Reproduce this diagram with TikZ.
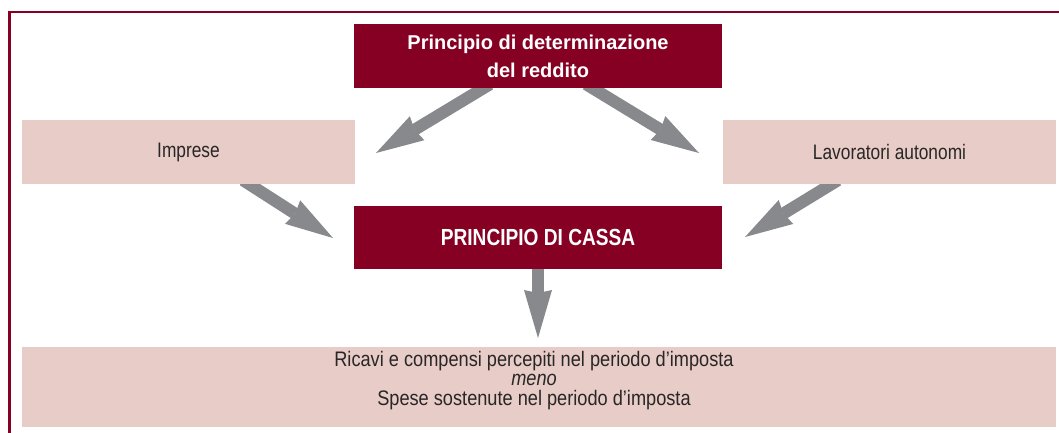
\documentclass[tikz,border=0pt]{standalone}
\usepackage{fontspec}
\setmainfont{Liberation Sans}
\newfontfamily\regfont[FakeStretch=0.825]{Liberation Sans}
\newfontfamily\resfont[FakeStretch=0.866]{Liberation Sans}
\newfontfamily\cassafont[FakeStretch=0.82]{Liberation Sans}
\usetikzlibrary{arrows.meta,backgrounds,calc}
\definecolor{wine}{RGB}{133,0,34}
\definecolor{blush}{RGB}{232,204,199}
\definecolor{arrowgray}{RGB}{136,137,141}
\definecolor{ink}{RGB}{40,38,38}
\begin{document}
\begin{tikzpicture}[x=1pt,y=-1pt,
  darkbox/.style={rectangle, fill=wine, text=white, inner sep=0pt, align=center},
  lightbox/.style={rectangle, fill=blush, text=ink, inner sep=0pt, align=center, font=\regfont\fontsize{21}{19}\selectfont},
  plaintext/.style={inner sep=0pt, text=ink, align=center, font=\resfont\fontsize{21}{19.2}\selectfont},
  bigarrow/.style={draw=arrowgray, line width=12pt, -{Stealth[length=48pt, width=28pt, inset=3pt, line width=0pt]}},
  framerule/.style={draw=wine, line width=2.5pt}]
\useasboundingbox (0,0) rectangle (1059,432);
% frame (cropped at right and bottom)
\coordinate (fbl) at (9.5,433);
\coordinate (ftl) at (9.5,12);
\coordinate (ftr) at (1060,12);
\draw[framerule] (fbl) -- (ftl) -- (ftr);
% boxes
\node[darkbox, minimum width=368pt, minimum height=64pt, font=\bfseries\fontsize{20}{28.3}\selectfont] (title) at (538,56)
  {Principio di determinazione\\del reddito};
\node[lightbox, minimum width=333pt, minimum height=64pt] (imp) at (188.5,152) {Imprese};
\node[lightbox, minimum width=333pt, minimum height=64pt] (lav) at (889.5,152) {Lavoratori autonomi};
\node[darkbox, minimum width=368pt, minimum height=63pt, font=\cassafont\bfseries\fontsize{23.3}{28}\selectfont] (cassa) at (538,237.5) {PRINCIPIO DI CASSA};
\node[rectangle, fill=blush, inner sep=0pt, minimum width=1034pt, minimum height=80pt] (res) at (539,387) {};
\node[plaintext] (restext) at (534,380.5)
  {Ricavi e compensi percepiti nel periodo d’imposta\\\textit{meno}\\Spese sostenute nel periodo d’imposta};
% arrow end points
\coordinate (a1s) at ($(title.south)+(-48,-4)$);
\coordinate (a1t) at (376,153);
\coordinate (a2s) at ($(title.south)+(48,-4)$);
\coordinate (a2t) at (699,153);
\coordinate (a3s) at ($(imp.south)+(54.5,-4)$);
\coordinate (a3t) at (333,238);
\coordinate (a4s) at ($(lav.south)+(-51.5,-4)$);
\coordinate (a4t) at (745,237);
\coordinate (a5s) at ($(cassa.south)+(0,-4)$);
\coordinate (a5t) at (538,338);
\begin{scope}[on background layer]
  \draw[bigarrow] (a1s) -- (a1t);
  \draw[bigarrow] (a2s) -- (a2t);
  \draw[bigarrow] (a3s) -- (a3t);
  \draw[bigarrow] (a4s) -- (a4t);
  \draw[bigarrow] (a5s) -- (a5t);
\end{scope}
\end{tikzpicture}
\end{document}
